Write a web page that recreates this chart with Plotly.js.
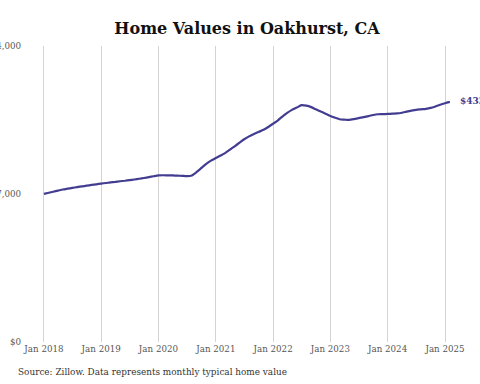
<!DOCTYPE html>
<html>
<head>
<meta charset="utf-8">
<script src="https://cdn.plot.ly/plotly-3.0.1.min.js"></script>
<style>html,body{margin:0;padding:0;background:#fff;}#chart{width:480px;height:384px;}</style>
</head>
<body>
<div id="chart"></div>
<script>
// Monthly typical home value, Jan 2018 .. Feb 2025
const startMonth = "2018-01-01";
const homeValues = [
  267300, 269300, 271100, 273100, 275100, 276600, 278000, 279500, 280700, 282000, 283300, 284500,
  285800, 286900, 288000, 288900, 290000, 290900, 292000, 293200, 294500, 295900, 297400, 299000,
  300500, 300800, 300600, 300500, 300100, 299700, 299200, 300500, 306800, 314000, 321500, 327300,
  331800, 336300, 340800, 347000, 353100, 359500, 365800, 371000, 375200, 379000, 382800, 387900,
  393900, 400000, 406700, 413400, 418800, 423000, 427200, 426300, 423700, 419700, 415800, 412000,
  407800, 404500, 401800, 401100, 400600, 402200, 404000, 405600, 407600, 409600, 410900, 411000,
  411400, 412000, 412300, 413600, 415600, 417400, 418900, 419800, 420700, 422300, 425000, 428000,
  430800, 433100
];
const yTickVals = [0, 267000, 534000];
const yTickText = ["$0", "$267,000", "$534,000"];
const xTickStart = "2018-01-01";
const chartTitle = "Home Values in Oakhurst, CA";
const sourceNote = "Source: Zillow. Data represents monthly typical home value";

const dates = homeValues.map((v, i) => {
  const d = new Date(Date.UTC(2018, i, 1));
  return d.toISOString().slice(0, 10);
});
const lastVal = homeValues[homeValues.length - 1];
const lastLabel = "$" + lastVal.toLocaleString("en-US");

const lineColor = "#433d91";
const font = "DejaVu Serif, serif";

Plotly.newPlot("chart", [{
  x: dates, y: homeValues, type: "scatter", mode: "lines",
  line: {color: lineColor, width: 2.2, shape: "spline", smoothing: 0.6},
  hoverinfo: "skip"
}], {
  width: 480, height: 384,
  paper_bgcolor: "#fff", plot_bgcolor: "#fff",
  margin: {l: 24, r: 0, t: 46, b: 42},
  showlegend: false,
  font: {family: font, color: "#555"},
  title: {
    text: "<b>" + chartTitle + "</b>",
    font: {family: font, size: 16, color: "#111"},
    x: 247 / 480, xref: "container", xanchor: "center",
    y: 1 - 28 / 384, yref: "container", yanchor: "middle"
  },
  xaxis: {
    type: "date",
    range: ["2017-08-27", "2025-08-12"],
    tick0: xTickStart, dtick: "M12", tickformat: "%b %Y",
    showgrid: true, gridcolor: "#d4d4d4", gridwidth: 1,
    zeroline: false, showline: false, ticks: "",
    tickfont: {family: font, size: 8.7, color: "#555"}
  },
  yaxis: {
    range: [0, yTickVals[2]],
    tickmode: "array", tickvals: yTickVals, ticktext: yTickText,
    showgrid: false, zeroline: false, showline: false, ticks: "",
    ticklabelstandoff: 2,
    tickfont: {family: font, size: 8.7, color: "#555"}
  },
  annotations: [
    {
      x: dates[dates.length - 1], y: lastVal, xref: "x", yref: "y",
      text: "<b>" + lastLabel + "</b>", showarrow: false,
      xanchor: "left", yanchor: "middle", xshift: 8, yshift: 0,
      font: {family: font, size: 9, color: lineColor}
    },
    {
      x: -8 / 456, y: -30 / 296, xref: "paper", yref: "paper",
      text: sourceNote, showarrow: false, xanchor: "left", yanchor: "middle",
      font: {family: font, size: 8.9, color: "#333"}
    }
  ]
}, {displayModeBar: false, staticPlot: true});
</script>
</body>
</html>
